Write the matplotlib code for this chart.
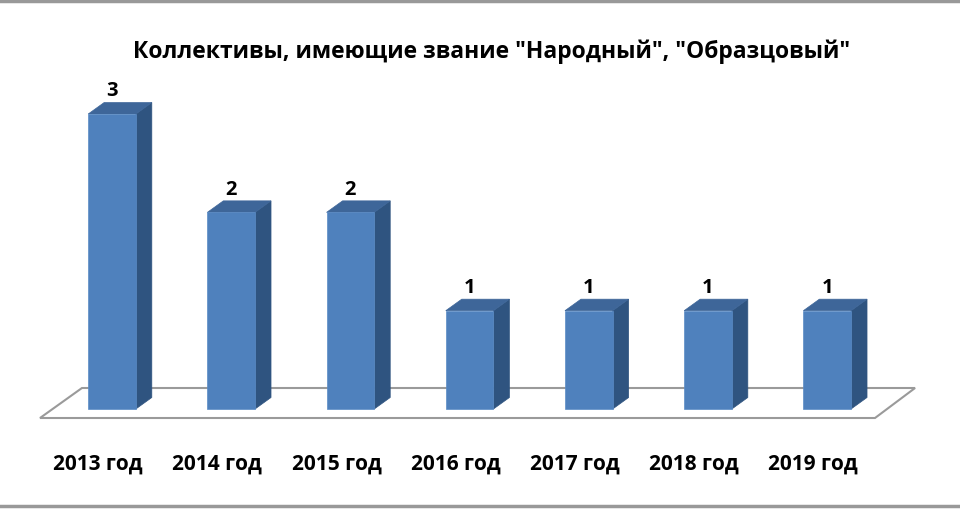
import matplotlib
matplotlib.use("Agg")
import matplotlib.pyplot as plt
from matplotlib.patches import Polygon
from matplotlib.lines import Line2D

plt.rcParams['font.family'] = ['Open Sans', 'DejaVu Sans']

# данные
years = ["2013 год", "2014 год", "2015 год", "2016 год", "2017 год", "2018 год", "2019 год"]
values = [3, 2, 2, 1, 1, 1, 1]
title = 'Коллективы, имеющие звание "Народный", "Образцовый"'

# цвета граней
c_front = '#4F81BD'
c_top = '#3E6699'
c_side = '#2F5480'

fig = plt.figure(figsize=(9.6, 5.1), dpi=100)
ax = fig.add_axes([0, 0, 1, 1])
ax.set_xlim(-0.9396, 7.114)
ax.set_ylim(-1.017, 4.170)
ax.axis('off')

# рамка сверху и снизу
fig.add_artist(Line2D([0, 1], [0.9955, 0.9955], transform=fig.transFigure, color='#999999', lw=2.5))
fig.add_artist(Line2D([0, 1], [0.006, 0.006], transform=fig.transFigure, color='#999999', lw=2.5))

# пол
n = len(values)
floor = Polygon([(-0.604, -0.0915), (n - 0.599, -0.0915), (n - 0.263, 0.2136), (-0.252, 0.2136)],
                closed=True, facecolor='white', edgecolor='#9a9a9a', lw=1.5, zorder=1)
ax.add_patch(floor)

w = 0.4      # ширина столбика
dx = 0.134   # глубина по x
dy = 0.117   # глубина по y

for i, v in enumerate(values):
    x0 = i - w / 2
    x1 = i + w / 2
    front = Polygon([(x0, 0), (x1, 0), (x1, v), (x0, v)], closed=True,
                    facecolor=c_front, edgecolor='#5b8cc6', lw=0.5, zorder=3)
    side = Polygon([(x1, 0), (x1 + dx, dy), (x1 + dx, v + dy), (x1, v)], closed=True,
                   facecolor=c_side, edgecolor=c_side, lw=0.5, zorder=2)
    top = Polygon([(x0, v), (x1, v), (x1 + dx, v + dy), (x0 + dx, v + dy)], closed=True,
                  facecolor=c_top, edgecolor=c_top, lw=0.5, zorder=2)
    ax.add_patch(side)
    ax.add_patch(top)
    ax.add_patch(front)
    ax.text(i, v + 0.14, str(v), ha='center', va='bottom', fontsize=14.5,
            fontweight='bold', color='black')
    ax.text(i - 0.117, -0.549, years[i], ha='center', va='center', fontsize=15,
            fontweight='bold', color='black')

fig.text(492 / 960, 1 - 52 / 510, title, ha='center', va='center', fontsize=16.5,
         fontweight='bold', color='black')

fig.savefig('out.png', dpi=100)
